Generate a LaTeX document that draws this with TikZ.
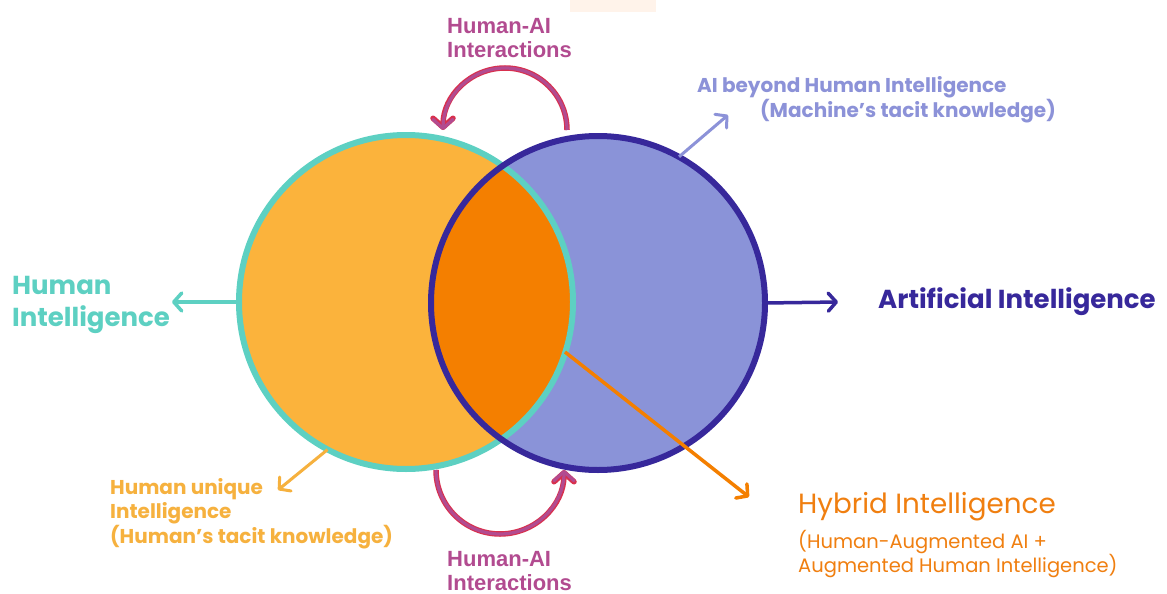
\documentclass[tikz,border=0pt]{standalone}
\usepackage{fontspec}
\setmainfont{Poppins}
\newfontfamily\arialfont{Liberation Sans}
\usetikzlibrary{arrows.meta}
\definecolor{tealc}{HTML}{5DD0C2}
\definecolor{horange}{HTML}{FBB33C}
\definecolor{lav}{HTML}{8A93D8}
\definecolor{dblue}{HTML}{37289B}
\definecolor{hybfill}{HTML}{F47F00}
\definecolor{magc}{HTML}{B24B90}
\definecolor{redc}{HTML}{D8304E}
\definecolor{lavtext}{HTML}{8C92D8}
\definecolor{hutext}{HTML}{F6B13E}
\definecolor{hybtext}{HTML}{F07F10}
\definecolor{peach}{HTML}{FFF3EA}
\tikzset{
  lbl/.style={inner sep=0pt, anchor=north west, align=left},
  barb/.style={-{Straight Barb[round,length=8pt,width=18pt]}},
  venn/.style={circle, minimum size=334pt, inner sep=0pt},
  rim/.style={line width=6pt},
  loopred/.style={redc, line width=5.5pt, -{Straight Barb[round,length=9pt,width=20pt]}},
  loopmag/.style={magc, line width=3.2pt, -{Straight Barb[round,length=9pt,width=20pt]}},
}
\begin{document}
\begin{tikzpicture}[x=1pt,y=-1pt]
\useasboundingbox (0,0) rectangle (1167,594);
\fill[white] (0,0) rectangle (1167,594);
\fill[peach] (570,0) rectangle (656,12);
% circles
\node[venn, fill=horange] (H) at (406,302) {};
\node[venn, fill=lav] (A) at (598,303) {};
\begin{scope}
  \clip (406,302) circle[radius=167pt];
  \fill[hybfill] (598,303) circle[radius=167pt];
\end{scope}
\draw[tealc, rim] (406,302) circle[radius=167pt];
\draw[dblue, rim] (598,303) circle[radius=167pt];
% labels
\node[lbl, text=tealc, font=\bfseries\fontsize{26}{32}\selectfont] (hi) at (12,276) {Human\\Intelligence};
\node[lbl, text=dblue, font=\bfseries\fontsize{26}{30}\selectfont] (ai) at (878,287) {Artificial Intelligence};
\node[lbl, text=lavtext, font=\bfseries\fontsize{20}{25}\selectfont] (aib) at (697,76) {AI beyond Human Intelligence\\\hspace*{63pt}(Machine’s tacit knowledge)};
\node[lbl, text=hutext, font=\bfseries\fontsize{20}{24.5}\selectfont] (hu) at (110,478) {Human unique\\Intelligence\\(Human’s tacit knowledge)};
\node[lbl, text=hybtext, font=\fontsize{27.8}{30}\selectfont] (hyb) at (798,492) {Hybrid Intelligence};
\node[lbl, text=hybtext, font=\fontsize{19.5}{24.5}\selectfont] (hybsub) at (798,530) {(Human-Augmented AI +\\Augmented Human Intelligence)};
\node[lbl, text=magc, font=\arialfont\bfseries\fontsize{22}{24}\selectfont] (hait) at (447,18) {Human-AI\\Interactions};
\node[lbl, text=magc, font=\arialfont\bfseries\fontsize{22}{24}\selectfont] (haib) at (447,551) {Human-AI\\Interactions};
% arrow ends
\coordinate (hitip) at (172,302);
\coordinate (aitip) at (838,302);
\coordinate (aibtip) at (728,115);
\coordinate (hutip) at (278,490);
\coordinate (hybstart) at (565,352);
\coordinate (hybtip) at (749,497);
\coordinate (t1) at (567,130);
\coordinate (b1) at (436,470);
% straight arrows
\draw[barb, tealc, line width=3.5pt] (H.west) -- (hitip);
\draw[barb, dblue, line width=3.5pt] (A.east) -- (aitip);
\draw[barb, lavtext, line width=3pt] (A.61) -- (aibtip);
\draw[barb, hutext, line width=3pt] (H.242) -- (hutip);
\draw[barb, hybfill, line width=3.5pt] (hybstart) -- (hybtip);
% interaction loops
\draw[loopred] (t1) arc[start angle=0, end angle=180, radius=62pt];
\draw[loopmag] (t1) arc[start angle=0, end angle=180, radius=62pt];
\draw[loopred] (b1) arc[start angle=180, end angle=360, radius=64pt];
\draw[loopmag] (b1) arc[start angle=180, end angle=360, radius=64pt];
\end{tikzpicture}
\end{document}
